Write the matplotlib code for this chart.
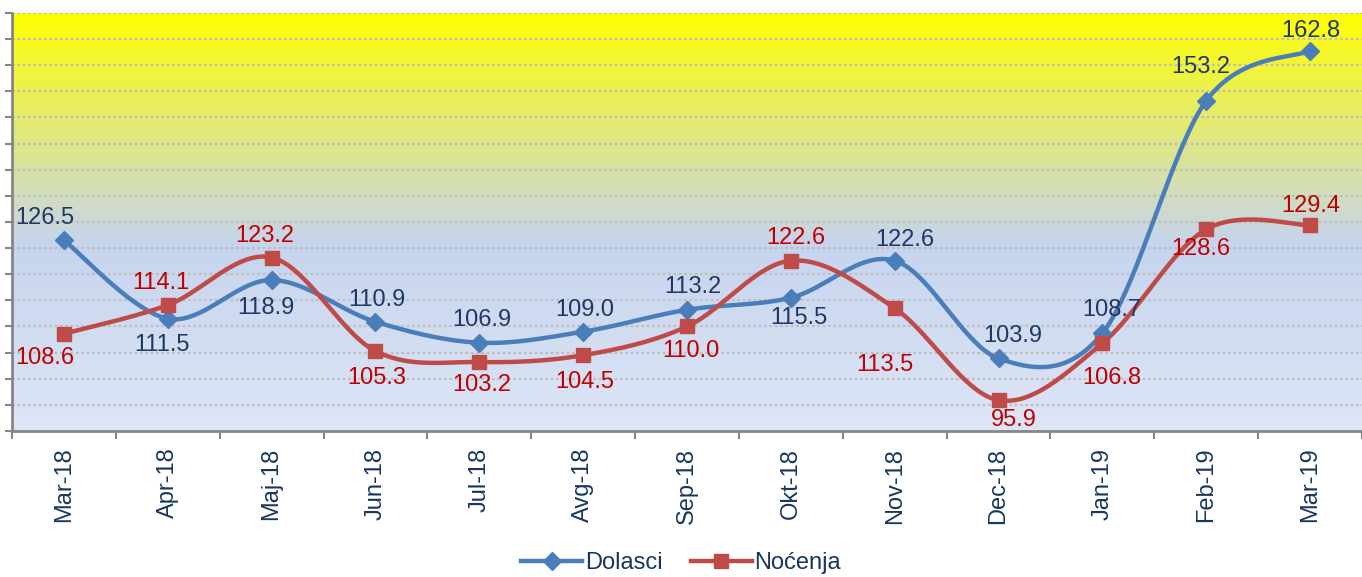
import numpy as np
import matplotlib.pyplot as plt
from matplotlib.lines import Line2D

plt.rcParams['font.family'] = ['Liberation Sans', 'DejaVu Sans']

# data
months = ["Mar-18", "Apr-18", "Maj-18", "Jun-18", "Jul-18", "Avg-18", "Sep-18",
          "Okt-18", "Nov-18", "Dec-18", "Jan-19", "Feb-19", "Mar-19"]
dolasci = [126.5, 111.5, 118.9, 110.9, 106.9, 109.0, 113.2, 115.5, 122.6, 103.9, 108.7, 153.2, 162.8]
nocenja = [108.6, 114.1, 123.2, 105.3, 103.2, 104.5, 110.0, 122.6, 113.5, 95.9, 106.8, 128.6, 129.4]

# label placement (pixel offsets of label centre from the point, +y = up)
dol_dx = [-19, -6, -6, 1, 3, 2, 6, 8, 10, 14, 9, -5, 1]
dol_dy = [22, -26, -28, 22, 23, 22, 23, -20, 21, 22, 23, 34, 20]
noc_dx = [-19, -7, -7, 1, 2, 2, 4, 5, -10, 15, 9, -5, 1]
noc_dy = [-24, 22, 22, -27, -23, -27, -25, 23, -57, -20, -35, -20, 19]

BLUE = '#4A7EBB'
RED = '#BE4B48'
NAVY = '#1F3864'
DARKRED = '#C00000'
FS = 17
PX = 72 / 100  # pixels -> points


def smooth(x, y, n=40):
    # excel-like smoothed line: cubic bezier with catmull-rom control points
    x = np.asarray(x, float)
    y = np.asarray(y, float)
    px = np.concatenate([[x[0]], x, [x[-1]]])
    py = np.concatenate([[y[0]], y, [y[-1]]])
    t = np.linspace(0, 1, n)
    xs, ys = [], []
    for i in range(1, len(px) - 2):
        p0 = np.array([px[i - 1], py[i - 1]])
        p1 = np.array([px[i], py[i]])
        p2 = np.array([px[i + 1], py[i + 1]])
        p3 = np.array([px[i + 2], py[i + 2]])
        c1 = p1 + (p2 - p0) / 6
        c2 = p2 - (p3 - p1) / 6
        b = ((1 - t) ** 3)[:, None] * p1 + (3 * (1 - t) ** 2 * t)[:, None] * c1 \
            + (3 * (1 - t) * t ** 2)[:, None] * c2 + (t ** 3)[:, None] * p2
        xs.append(b[:, 0])
        ys.append(b[:, 1])
    return np.concatenate(xs), np.concatenate(ys)


fig = plt.figure(figsize=(13.62, 5.77), dpi=100)
ax = fig.add_axes([12 / 1362, 146 / 577, 1350 / 1362, 418 / 577])

x = np.arange(len(months))
ymin, ymax = 90, 170

# background gradient: yellow top -> light blue middle -> lighter blue bottom
fr = np.linspace(0, 1, 400)
top = np.array([255, 255, 0]) / 255
mid = np.array([198, 212, 238]) / 255
bot = np.array([222, 230, 246]) / 255
m = 0.45
cols = np.empty((400, 3))
for i, f in enumerate(fr):
    if f >= m:
        a = (f - m) / (1 - m)
        cols[i] = mid * (1 - a) + top * a
    else:
        a = f / m
        cols[i] = bot * (1 - a) + mid * a
img = cols[::-1][:, None, :]
ax.imshow(img, extent=(-0.5, 12.5, ymin, ymax), aspect='auto', zorder=0,
          interpolation='bilinear')

for yv in np.arange(95, 171, 5):
    ax.axhline(yv, color='#BEBEBE', lw=1.6, ls=(0, (1.2, 1.2)), zorder=1)

sx, sy = smooth(x, dolasci)
ax.plot(sx, sy, color=BLUE, lw=3.2, zorder=3, solid_capstyle='round')
ax.plot(x, dolasci, ls='none', marker='D', ms=9.5, color=BLUE, zorder=4)
sx, sy = smooth(x, nocenja)
ax.plot(sx, sy, color=RED, lw=3.2, zorder=3, solid_capstyle='round')
ax.plot(x, nocenja, ls='none', marker='s', ms=10, color=RED, zorder=4)

for xi, v, dx, dy in zip(x, dolasci, dol_dx, dol_dy):
    ax.annotate(f"{v:.1f}", (xi, v), xytext=(dx * PX, dy * PX), textcoords='offset points',
                ha='center', va='center', fontsize=FS, color=NAVY, zorder=5)
for xi, v, dx, dy in zip(x, nocenja, noc_dx, noc_dy):
    ax.annotate(f"{v:.1f}", (xi, v), xytext=(dx * PX, dy * PX), textcoords='offset points',
                ha='center', va='center', fontsize=FS, color=DARKRED, zorder=5)

ax.set_xlim(-0.5, 12.5)
ax.set_ylim(ymin, ymax)

ax.set_xticks(x)
ax.set_xticklabels(months, rotation=90, fontsize=FS, color='#17375E')
ax.set_xticks(np.arange(-0.5, 12.6, 1), minor=True)
ax.tick_params(axis='x', which='major', length=0, pad=12)
ax.tick_params(axis='x', which='minor', length=6, width=1.5, color='#868686', direction='out')
ax.set_yticks(np.arange(90, 171, 5))
ax.set_yticklabels([])
ax.tick_params(axis='y', length=5, width=1.5, color='#868686', direction='out')

for side in ['top', 'right']:
    ax.spines[side].set_visible(False)
for side in ['left', 'bottom']:
    ax.spines[side].set_color('#868686')
    ax.spines[side].set_linewidth(2)

handles = [Line2D([], [], color=BLUE, lw=3.2, marker='D', ms=9.5),
           Line2D([], [], color=RED, lw=3.2, marker='s', ms=10)]
leg = fig.legend(handles, ['Dolasci', 'Noćenja'], loc='center', bbox_to_anchor=(0.5, 0.024),
                 ncol=2, frameon=False, fontsize=FS, handlelength=2.6,
                 handletextpad=0.1, columnspacing=1.2)
for t in leg.get_texts():
    t.set_color('#17375E')

fig.savefig('out.png', dpi=100)
